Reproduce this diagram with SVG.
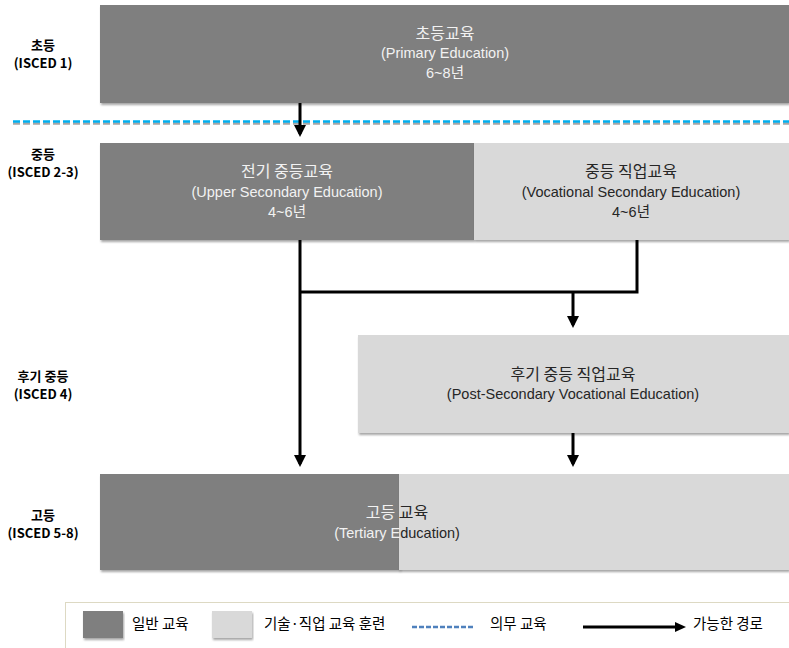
<svg xmlns="http://www.w3.org/2000/svg" width="789" height="648" viewBox="0 0 789 648">
<style>
.dark{fill:#7f7f7f}
.light{fill:#d9d9d9}
.t{font-family:"Liberation Sans","Noto Sans CJK KR",sans-serif;text-anchor:middle;font-size:14.5px}
.kt{font-family:"Noto Sans CJK KR","Liberation Sans",sans-serif;text-anchor:middle;font-size:16px}
.w{fill:#f2f2f2}
.b{fill:#262626}
.lab{font-family:"Noto Sans CJK KR","Liberation Sans",sans-serif;font-weight:bold;font-size:13px;fill:#000;text-anchor:middle}
.conn{stroke:#000;stroke-width:3;fill:none}
.leg{font-family:"Noto Sans CJK KR","Liberation Sans",sans-serif;font-size:14.5px;fill:#000}
</style>
<defs>
<filter id="sh" x="-5%" y="-10%" width="110%" height="125%">
<feDropShadow dx="1" dy="2" stdDeviation="1.2" flood-color="#000" flood-opacity="0.35"/>
</filter>
<marker id="ah" markerWidth="4" markerHeight="4" refX="3" refY="2" orient="auto" markerUnits="strokeWidth">
<path d="M0,0 L4,2 L0,4 z" fill="#000"/>
</marker>
</defs>
<rect width="789" height="648" fill="#fff"/>

<g id="level-labels">
<text class="lab" x="43" y="50">초등</text>
<text class="lab" x="43" y="68">(ISCED 1)</text>
<text class="lab" x="43" y="159">중등</text>
<text class="lab" x="43" y="177">(ISCED 2-3)</text>
<text class="lab" x="43" y="381">후기 중등</text>
<text class="lab" x="43" y="399">(ISCED 4)</text>
<text class="lab" x="43" y="520">고등</text>
<text class="lab" x="43" y="538">(ISCED 5-8)</text>
</g>

<g id="compulsory-line">
<line x1="13" y1="123.5" x2="789" y2="123.5" stroke="#a6a6a6" stroke-width="2.5" stroke-dasharray="7,3"/>
<line x1="13" y1="121.5" x2="789" y2="121.5" stroke="#00b0f0" stroke-width="2.5" stroke-dasharray="7,3"/>
</g>

<g id="primary">
<rect class="dark" x="100" y="5" width="689" height="98" filter="url(#sh)"/>
<text class="kt w" x="445" y="39">초등교육</text>
<text class="t w" x="445" y="58">(Primary Education)</text>
<text class="t w" x="445" y="78">6~8년</text>
</g>

<g id="upper-secondary">
<rect class="dark" x="100" y="143" width="374" height="97" filter="url(#sh)"/>
<text class="kt w" x="287" y="177">전기 중등교육</text>
<text class="t w" x="287" y="197">(Upper Secondary Education)</text>
<text class="t w" x="287" y="217">4~6년</text>
</g>

<g id="vocational-secondary">
<rect class="light" x="474" y="143" width="315" height="97" filter="url(#sh)"/>
<text class="kt b" x="631" y="177">중등 직업교육</text>
<text class="t b" x="631" y="197">(Vocational Secondary Education)</text>
<text class="t b" x="631" y="217">4~6년</text>
</g>

<g id="post-secondary">
<rect class="light" x="358" y="335" width="431" height="98" filter="url(#sh)"/>
<text class="kt b" x="573" y="380">후기 중등 직업교육</text>
<text class="t b" x="573" y="399">(Post-Secondary Vocational Education)</text>
</g>

<g id="tertiary">
<rect class="dark" x="100" y="474" width="300" height="96" filter="url(#sh)"/>
<rect class="light" x="399" y="474" width="390" height="96" filter="url(#sh)"/>
<text class="kt" x="397" y="518"><tspan fill="#f2f2f2">고등 </tspan><tspan fill="#262626">교육</tspan></text>
<text class="t" x="397" y="538"><tspan fill="#f2f2f2">(Tertiary E</tspan><tspan fill="#262626">ducation)</tspan></text>
</g>

<g id="connectors">
<line class="conn" x1="300" y1="103" x2="300" y2="134" marker-end="url(#ah)"/>
<line class="conn" x1="300" y1="240" x2="300" y2="464" marker-end="url(#ah)"/>
<polyline class="conn" points="637,240 637,292 300,292"/>
<line class="conn" x1="573" y1="292" x2="573" y2="325" marker-end="url(#ah)"/>
<line class="conn" x1="573" y1="433" x2="573" y2="464" marker-end="url(#ah)"/>
</g>

<g id="legend">
<rect x="65.5" y="602.5" width="740" height="60" fill="#fff" stroke="#ddd9c3" stroke-width="1"/>
<rect class="dark" x="83" y="611" width="40" height="27" filter="url(#sh)"/>
<text class="leg" x="132" y="629">일반 교육</text>
<rect class="light" x="212" y="611" width="40" height="27" filter="url(#sh)"/>
<text class="leg" x="264" y="629">기술·직업 교육 훈련</text>
<line x1="412" y1="627" x2="475" y2="627" stroke="#4f81bd" stroke-width="2.5" stroke-dasharray="5,2"/>
<text class="leg" x="490" y="629">의무 교육</text>
<line x1="583" y1="627" x2="677" y2="627" stroke="#000" stroke-width="3"/>
<path d="M675,622 L686,627 L675,632 z" fill="#000"/>
<text class="leg" x="693" y="629">가능한 경로</text>
</g>
</svg>
